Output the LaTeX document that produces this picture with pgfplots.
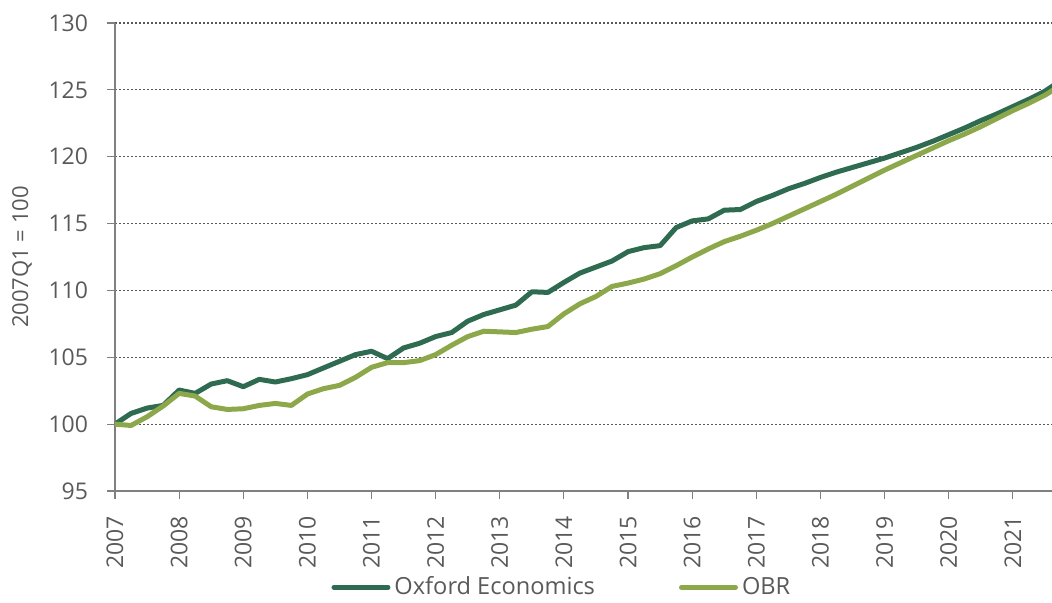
\documentclass[border=0pt]{standalone}
\usepackage{pgfplots}
\pgfplotsset{compat=1.18}
\usepackage{fontspec}
\setmainfont{Open Sans}
\definecolor{oxf}{HTML}{2E6B50}
\definecolor{obr}{HTML}{8DA84A}
\definecolor{txt}{HTML}{595959}
\begin{document}
\begin{tikzpicture}
\begin{axis}[
  at={(0,0)}, anchor=south west,
  scale only axis,
  width=468.5pt, height=234pt,
  xmin=2007, xmax=2021.61,
  ymin=95, ymax=130,
  ytick={95,100,...,130},
  xtick={2007,...,2021},
  axis x line*=bottom, axis y line*=left,
  axis line style={draw=gray, line width=0.6pt},
  tick style={draw=gray, line width=0.6pt},
  tick align=outside,
  major tick length=4pt,
  ymajorgrids,
  grid style={dash pattern=on 1pt off 1pt, gray!70!black, line width=0.6pt},
  /pgf/number format/assume math mode=true,
  /pgf/number format/1000 sep={},
  tick label style={font=\fontsize{11.5}{13}\selectfont, text=txt},
  x tick label style={rotate=90, anchor=east},
  xticklabel shift=5pt,
  yticklabel shift=6pt,
  ylabel={2007Q1 = 100},
  ylabel style={at={(axis description cs:-0.0993,0.5)}, anchor=center, font=\fontsize{11}{13}\selectfont, text=txt},
  legend columns=2,
  legend style={at={(axis description cs:0.478,-0.206)}, anchor=center, draw=none, fill=none,
    inner sep=1pt,
    font=\fontsize{11.8}{13}\selectfont, text=txt,
    /tikz/every even column/.append style={column sep=40pt}},
  legend image code/.code={\draw[#1, line cap=round] (0pt,0pt) -- (27pt,0pt);},
  clip=true,
]
\addplot[oxf, line width=2.5pt, line join=round] coordinates {
(2007.00,100.0) (2007.25,100.8) (2007.50,101.2) (2007.75,101.4)
(2008.00,102.55) (2008.25,102.3) (2008.50,103.0) (2008.75,103.25)
(2009.00,102.8) (2009.25,103.35) (2009.50,103.15) (2009.75,103.4)
(2010.00,103.7) (2010.25,104.2) (2010.50,104.7) (2010.75,105.2)
(2011.00,105.45) (2011.25,104.9) (2011.50,105.7) (2011.75,106.05)
(2012.00,106.55) (2012.25,106.85) (2012.50,107.7) (2012.75,108.2)
(2013.00,108.55) (2013.25,108.9) (2013.50,109.9) (2013.75,109.85)
(2014.00,110.6) (2014.25,111.3) (2014.50,111.75) (2014.75,112.2)
(2015.00,112.9) (2015.25,113.2) (2015.50,113.35) (2015.75,114.7)
(2016.00,115.2) (2016.25,115.35) (2016.50,116.0) (2016.75,116.05)
(2017.00,116.65) (2017.25,117.1) (2017.50,117.6) (2017.75,118.0)
(2018.00,118.45) (2018.25,118.85) (2018.50,119.2) (2018.75,119.55)
(2019.00,119.9) (2019.25,120.3) (2019.50,120.7) (2019.75,121.15)
(2020.00,121.65) (2020.25,122.15) (2020.50,122.7) (2020.75,123.2)
(2021.00,123.75) (2021.25,124.3) (2021.50,124.9) (2021.75,125.7)
};
\addlegendentry{Oxford Economics}
\addplot[obr, line width=2.5pt, line join=round] coordinates {
(2007.00,100.0) (2007.25,99.9) (2007.50,100.55) (2007.75,101.35)
(2008.00,102.3) (2008.25,102.1) (2008.50,101.3) (2008.75,101.1)
(2009.00,101.15) (2009.25,101.4) (2009.50,101.55) (2009.75,101.4)
(2010.00,102.25) (2010.25,102.65) (2010.50,102.9) (2010.75,103.5)
(2011.00,104.25) (2011.25,104.6) (2011.50,104.6) (2011.75,104.75)
(2012.00,105.2) (2012.25,105.9) (2012.50,106.55) (2012.75,106.95)
(2013.00,106.9) (2013.25,106.85) (2013.50,107.1) (2013.75,107.3)
(2014.00,108.25) (2014.25,109.0) (2014.50,109.55) (2014.75,110.3)
(2015.00,110.55) (2015.25,110.85) (2015.50,111.25) (2015.75,111.85)
(2016.00,112.5) (2016.25,113.1) (2016.50,113.65) (2016.75,114.05)
(2017.00,114.5) (2017.25,115.0) (2017.50,115.55) (2017.75,116.1)
(2018.00,116.65) (2018.25,117.2) (2018.50,117.8) (2018.75,118.4)
(2019.00,119.0) (2019.25,119.55) (2019.50,120.1) (2019.75,120.65)
(2020.00,121.2) (2020.25,121.7) (2020.50,122.25) (2020.75,122.85)
(2021.00,123.45) (2021.25,124.0) (2021.50,124.6) (2021.75,125.35)
};
\addlegendentry{OBR}
\end{axis}
\pgfresetboundingbox
\useasboundingbox (-57.5pt,-56pt) rectangle (468.5pt,245.5pt);
\end{tikzpicture}
\end{document}
